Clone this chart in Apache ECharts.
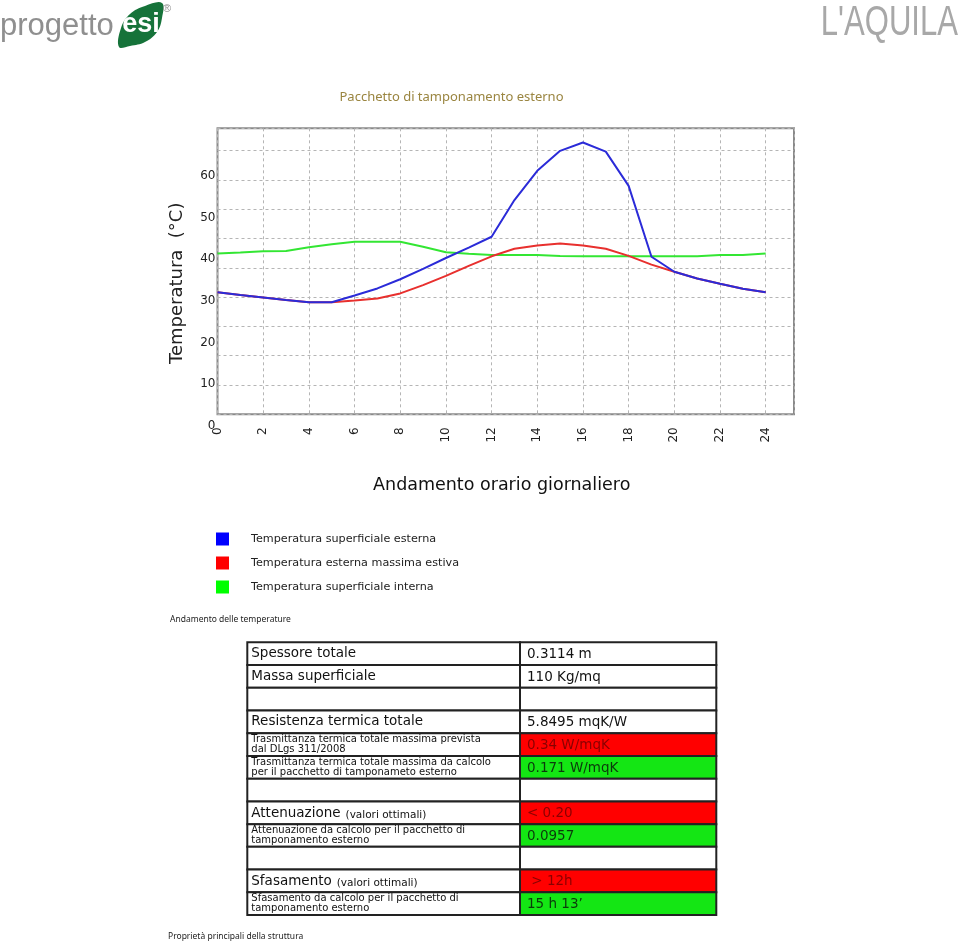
<!DOCTYPE html>
<html><head><meta charset="utf-8">
<script src="https://cdn.jsdelivr.net/npm/echarts@6/dist/echarts.min.js"></script>
<style>html,body{margin:0;padding:0;background:#fff}#c{width:960px;height:943px}</style>
</head><body><div id="c"></div>
<script>
// ---------- DATA ----------
const hours = [0,1,2,3,4,5,6,7,8,9,10,11,12,13,14,15,16,17,18,19,20,21,22,23,24];
const extSurface = [32.1,31.4,30.8,30.2,29.7,29.7,31.3,33.0,35.2,37.7,40.3,42.8,45.4,54.2,61.2,66.0,68.0,65.8,57.6,40.6,37.0,35.4,34.1,32.9,32.1];
const extAirMax  = [32.1,31.4,30.8,30.2,29.7,29.7,30.1,30.6,31.8,33.8,36.0,38.4,40.7,42.5,43.3,43.8,43.3,42.5,40.8,38.7,37.0,35.4,34.1,32.9,32.1];
const intSurface = [41.4,41.6,41.9,42.0,42.9,43.6,44.2,44.2,44.2,43.0,41.7,41.3,41.0,41.0,41.0,40.8,40.7,40.7,40.7,40.7,40.7,40.7,41.0,41.0,41.4];
const seriesNames = ['Temperatura superficiale esterna','Temperatura esterna massima estiva','Temperatura superficiale interna'];
const xTickLabels = [0,2,4,6,8,10,12,14,16,18,20,22,24];
const yTickLabels = [0,10,20,30,40,50,60];

const tableLabels = [
  'Spessore totale',
  'Massa superficiale',
  '',
  'Resistenza termica totale',
  'Trasmittanza termica totale massima prevista\ndal DLgs 311/2008',
  'Trasmittanza termica totale massima da calcolo\nper il pacchetto di tamponameto esterno',
  '',
  'Attenuazione|(valori ottimali)',
  'Attenuazione da calcolo per il pacchetto di\ntamponamento esterno',
  '',
  'Sfasamento|(valori ottimali)',
  'Sfasamento da calcolo per il pacchetto di\ntamponamento esterno'
];
const tableValues = ['0.3114 m','110 Kg/mq','','5.8495 mqK/W','0.34 W/mqK','0.171 W/mqK','','< 0.20','0.0957','',' > 12h','15 h 13\u2019'];
const tableStatus = ['','','','','limit','ok','','limit','ok','','limit','ok'];

// ---------- STYLE / LAYOUT ----------
const lineColors = ['#2b2bd8','#e8302e','#33e633'];
const legendColors = ['#0000ff','#ff0000','#00ff00'];
const PL = 217.5, PR = 794, PT = 128.3, PB = 414.3;
const XMAX = 25.24;
const GRID_PX = 29.3;
const Y0 = 426.0, PXU = 4.169, YMAX = 70;
const F = '"DejaVu Sans", Verdana, sans-serif';

const cv = document.createElement('canvas').getContext('2d');
function tw(t, font){ cv.font = font; return cv.measureText(t).width; }

const chart = echarts.init(document.getElementById('c'), null, {renderer:'canvas'});

const graphics = [];
// logo
graphics.push({type:'text', x:0, y:26, style:{text:'progetto', font:'31px "Liberation Sans", Arial, sans-serif', fill:'#8f8f8f', align:'left', verticalAlign:'middle'}});
graphics.push({type:'polygon', shape:{points:[[119,47],[121,28],[130,14],[145,6],[162,3],[162,18],[157,32],[145,42],[130,46]], smooth:0.4}, style:{fill:'#16733a'}});
graphics.push({type:'text', x:141, y:25, style:{text:'esi', font:'bold 27px "Liberation Sans", Arial, sans-serif', fill:'#ffffff', align:'center', verticalAlign:'middle'}});
graphics.push({type:'text', x:163, y:9, style:{text:'\u00AE', font:'11px "Liberation Sans", Arial, sans-serif', fill:'#8f8f8f', align:'left', verticalAlign:'middle'}});
graphics.push({type:'text', x:958, y:23, scaleX:0.74, style:{text:"L'AQUILA", font:'42px "Liberation Sans", Arial, sans-serif', fill:'#a8a8a8', align:'right', verticalAlign:'middle'}});
// titles
graphics.push({type:'text', x:451.5, y:97, style:{text:'Pacchetto di tamponamento esterno', font:'13px "Noto Sans", sans-serif', fill:'#9a8540', align:'center', verticalAlign:'middle'}});
graphics.push({type:'text', x:177.5, y:283.3, rotation:Math.PI/2, style:{text:'Temperatura  (\u00B0C)', font:'18px '+F, fill:'#222', align:'center', verticalAlign:'middle'}});
graphics.push({type:'text', x:501.7, y:485, style:{text:'Andamento orario giornaliero', font:'17.5px '+F, fill:'#111', align:'center', verticalAlign:'middle'}});
graphics.push({type:'text', x:170, y:620, style:{text:'Andamento delle temperature', font:'8.5px "Noto Sans", sans-serif', fill:'#222', align:'left', verticalAlign:'middle'}});
graphics.push({type:'text', x:168, y:937, style:{text:'Propriet\u00E0 principali della struttura', font:'8.5px "Noto Sans", sans-serif', fill:'#222', align:'left', verticalAlign:'middle'}});

// table
const TX0 = 247.3, TXM = 520, TX1 = 716.3, TT = 642.3, RH = 22.73;
tableLabels.forEach((lab, i) => {
  const y = TT + i*RH;
  const st = tableStatus[i];
  graphics.push({type:'rect', shape:{x:TX0, y:y, width:TXM-TX0, height:RH}, style:{fill:'#fff', stroke:'#222', lineWidth:2}});
  graphics.push({type:'rect', shape:{x:TXM, y:y, width:TX1-TXM, height:RH}, style:{fill: st==='limit' ? '#ff0000' : st==='ok' ? '#14e614' : '#fff', stroke:'#222', lineWidth:2}});
});
tableLabels.forEach((lab, i) => {
  const y = TT + i*RH, cy = y + RH/2;
  const st = tableStatus[i];
  if (lab.indexOf('|') >= 0) {
    const parts = lab.split('|');
    const bigF = '13.5px ' + F;
    graphics.push({type:'text', x:TX0+4, y:cy+1, style:{text:parts[0], font:bigF, fill:'#111', align:'left', verticalAlign:'middle'}});
    graphics.push({type:'text', x:TX0+4+tw(parts[0], bigF)+5, y:cy+2, style:{text:parts[1], font:'10.5px '+F, fill:'#111', align:'left', verticalAlign:'middle'}});
  } else if (lab.indexOf('\n') >= 0) {
    graphics.push({type:'text', x:TX0+4, y:cy, style:{text:lab, font:'10px '+F, lineHeight:10, fill:'#111', align:'left', verticalAlign:'middle'}});
  } else if (lab) {
    graphics.push({type:'text', x:TX0+4, y:cy, style:{text:lab, font:'13.5px '+F, fill:'#111', align:'left', verticalAlign:'middle'}});
  }
  if (tableValues[i]) {
    graphics.push({type:'text', x:TXM+7, y:cy+1, style:{text:tableValues[i], font:'13.5px '+F, fill: st==='limit' ? '#8a0000' : st==='ok' ? '#0c3a0c' : '#111', align:'left', verticalAlign:'middle'}});
  }
});

const dashed = {color:'#b5b5b5', width:1, type:[3,3]};
const option = {
  animation: false,
  backgroundColor: '#fff',
  legend: {
    orient:'vertical', left:216, top:532.5, padding:0, itemWidth:13, itemHeight:13, itemGap:11, icon:'rect', selectedMode:false,
    textStyle:{fontFamily:F, fontSize:11.2, color:'#222', padding:[0,0,0,17]},
    data: seriesNames.map((n,i)=>({name:n, itemStyle:{color:legendColors[i]}}))
  },
  grid: [
    {left:PL, top:PT, width:PR-PL, height:PB-PT, show:true, borderColor:'#8a8a8a', borderWidth:2, backgroundColor:'transparent'},
    {left:PL, top:Y0-YMAX*PXU, width:PR-PL, height:YMAX*PXU, show:false}
  ],
  xAxis: [
    {gridIndex:0, type:'value', min:0, max:XMAX, interval:2,
     axisLine:{show:false}, axisTick:{show:false},
     splitLine:{show:true, lineStyle:dashed},
     axisLabel:{rotate:90, margin:13, fontSize:12, fontFamily:F, color:'#222', showMaxLabel:false,
       formatter:v => xTickLabels.indexOf(v) >= 0 ? String(v) : ''}},
    {gridIndex:1, type:'value', min:0, max:XMAX, show:false}
  ],
  yAxis: [
    {gridIndex:0, type:'value', min:0, max:(PB-PT)/GRID_PX, interval:1,
     axisLine:{show:false}, axisTick:{show:false}, axisLabel:{show:false},
     splitLine:{show:true, lineStyle:dashed}},
    {gridIndex:1, type:'value', min:0, max:YMAX, interval:10,
     axisLine:{show:false}, axisTick:{show:false}, splitLine:{show:false},
     axisLabel:{margin:2, fontSize:12, fontFamily:F, color:'#222',
       formatter:v => yTickLabels.indexOf(v) >= 0 ? String(v) : ''}}
  ],
  series: [
    {name:seriesNames[2], type:'line', xAxisIndex:1, yAxisIndex:1, data:hours.map((h,i)=>[h, intSurface[i]]),
     symbol:'none', itemStyle:{color:legendColors[2]}, lineStyle:{color:lineColors[2], width:2}, z:3},
    {name:seriesNames[1], type:'line', xAxisIndex:1, yAxisIndex:1, data:hours.map((h,i)=>[h, extAirMax[i]]),
     symbol:'none', itemStyle:{color:legendColors[1]}, lineStyle:{color:lineColors[1], width:2}, z:4},
    {name:seriesNames[0], type:'line', xAxisIndex:1, yAxisIndex:1, data:hours.map((h,i)=>[h, extSurface[i]]),
     symbol:'none', itemStyle:{color:legendColors[0]}, lineStyle:{color:lineColors[0], width:2}, z:5}
  ],
  graphic: {elements: graphics}
};
chart.setOption(option);
</script>
</body></html>
